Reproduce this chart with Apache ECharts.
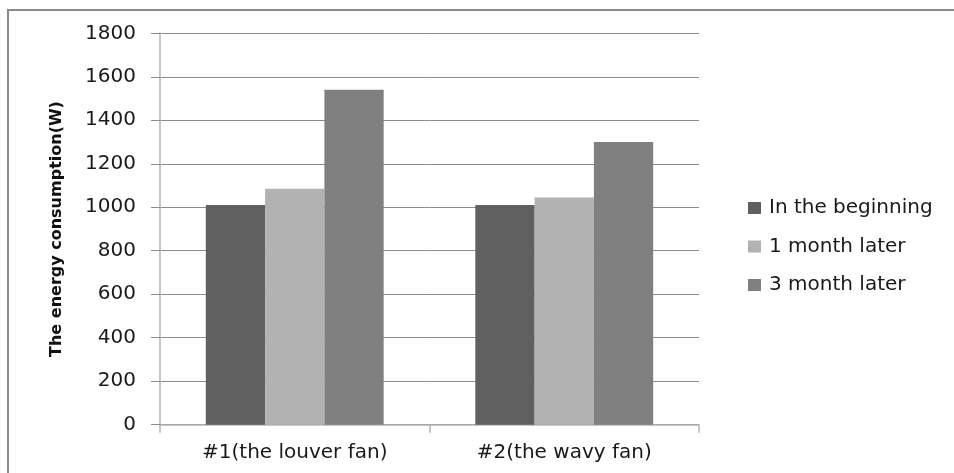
<!DOCTYPE html>
<html>
<head>
<meta charset="utf-8">
<script src="https://cdn.jsdelivr.net/npm/echarts@6/dist/echarts.min.js"></script>
<style>
  html, body { margin: 0; padding: 0; background: #fff; }
  #chart { width: 954px; height: 473px; }
</style>
</head>
<body>
<div id="chart"></div>
<script>
// Fan types on the category axis
const categories = ['#1(the louver fan)', '#2(the wavy fan)'];
// Energy consumption (W) at each measurement time
const beginning = [1010, 1010];
const oneMonth = [1085, 1045];
const threeMonth = [1540, 1300];
const seriesNames = ['In the beginning', '1 month later', '3 month later'];
const yTicks = { min: 0, max: 1800, interval: 200 };

const FONT = '"DejaVu Sans", sans-serif';
const chart = echarts.init(document.getElementById('chart'), null, { renderer: 'canvas' });

const barSeries = (name, data, color) => ({
  name: name,
  type: 'bar',
  data: data,
  barGap: '0%',
  barCategoryGap: '34%',
  itemStyle: { color: color },
  emphasis: { disabled: true }
});

chart.setOption({
  animation: false,
  backgroundColor: '#ffffff',
  textStyle: { fontFamily: FONT },
  grid: { left: 160, top: 33.3, width: 539, height: 391.4 },
  legend: {
    orient: 'vertical',
    left: 743,
    top: 193,
    icon: 'rect',
    itemWidth: 13,
    itemHeight: 12,
    itemGap: 18.5,
    textStyle: { fontFamily: FONT, fontSize: 20, color: '#1a1a1a', padding: [0, 0, 0, 3] },
    data: seriesNames
  },
  xAxis: {
    type: 'category',
    data: categories,
    axisLine: { show: true, lineStyle: { color: '#b4b4b4', width: 1.5 } },
    axisTick: { show: true, length: 8, lineStyle: { color: '#b4b4b4', width: 1.5 } },
    axisLabel: { fontFamily: FONT, fontSize: 20, color: '#1a1a1a', margin: 18 },
    splitLine: { show: false }
  },
  yAxis: {
    type: 'value',
    min: yTicks.min,
    max: yTicks.max,
    interval: yTicks.interval,
    name: 'The energy consumption(W)',
    nameLocation: 'middle',
    nameRotate: 90,
    nameGap: 95,
    nameTextStyle: { fontFamily: FONT, fontSize: 16, fontWeight: 'bold', color: '#111' },
    axisLine: { show: true, lineStyle: { color: '#b4b4b4', width: 1.5 } },
    axisTick: { show: true, length: 9, lineStyle: { color: '#8c8c8c' } },
    axisLabel: {
      fontFamily: FONT, fontSize: 20, color: '#1a1a1a', margin: 24,
      formatter: (v) => String(v)
    },
    splitLine: { show: true, lineStyle: { color: '#8c8c8c', width: 1 } }
  },
  series: [
    barSeries(seriesNames[0], beginning, '#606060'),
    barSeries(seriesNames[1], oneMonth, '#b2b2b2'),
    barSeries(seriesNames[2], threeMonth, '#808080')
  ],
  graphic: [{
    // frame: left and top edges of the chart box
    type: 'polyline',
    shape: { points: [[8, 480], [8, 10], [960, 10]] },
    style: { fill: 'none', stroke: '#8a8a8a', lineWidth: 2 },
    silent: true
  }]
});
</script>
</body>
</html>
